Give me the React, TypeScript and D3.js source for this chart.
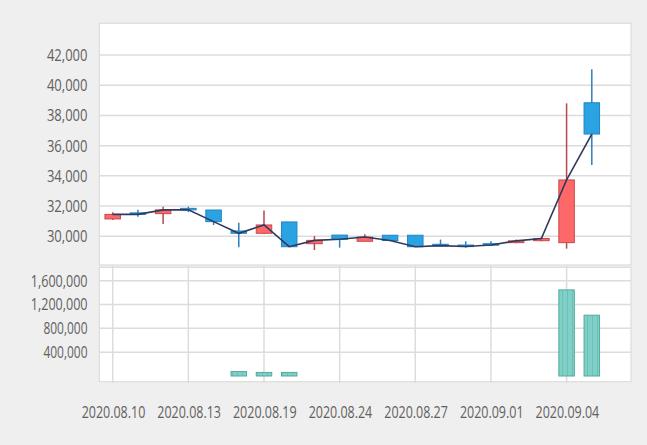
import React from 'react';
import * as d3 from 'd3';

const dates = ['2020.08.10','2020.08.11','2020.08.12','2020.08.13','2020.08.14','2020.08.18','2020.08.19','2020.08.20','2020.08.21','2020.08.24','2020.08.25','2020.08.26','2020.08.27','2020.08.28','2020.08.31','2020.09.01','2020.09.02','2020.09.03','2020.09.04','2020.09.07'];
const openP = [31150, 31550, 31500, 31850, 31740, 30350, 30200, 30950, 29510, 30080, 29670, 30070, 30070, 29470, 29420, 29510, 29580, 29710, 29580, 38840];
const closeP = [31450, 31450, 31750, 31750, 30970, 30200, 30750, 29310, 29730, 29800, 29950, 29720, 29310, 29380, 29320, 29420, 29700, 29850, 33730, 36770];
const highP = [31590, 31760, 31960, 31960, 31740, 30900, 31700, 30950, 30020, 30080, 30130, 30070, 30070, 29780, 29670, 29670, 29780, 29950, 38800, 41050];
const lowP = [31080, 31300, 30810, 31610, 30750, 29270, 30150, 29310, 29090, 29250, 29670, 29710, 29310, 29380, 29250, 29360, 29540, 29670, 29180, 34720];
const volume = [0, 0, 0, 0, 0, 75000, 60000, 60000, 0, 0, 0, 0, 0, 0, 0, 0, 0, 0, 1445000, 1020000];
const priceTicks = [30000, 32000, 34000, 36000, 38000, 40000, 42000];
const volTicks = [400000, 800000, 1200000, 1600000];
const xLabelIdx = [0, 3, 6, 9, 12, 15, 18];

const W = 647, H = 445;
const L = 99.3, R = 631;
const FONT = '"Open Sans", "Noto Sans", sans-serif';

export default function App() {
  const x = d3.scalePoint<string>().domain(dates).range([112.7, 591.8]);
  const yP = d3.scaleLinear().domain([28100, 44100]).range([265, 23.3]);
  const yV = d3.scaleLinear().domain([-95600, 1824000]).range([381.7, 267.3]);
  const bw = 15.5;
  const fmt = d3.format(',');
  const line = d3.line<number>().x((_, i) => x(dates[i])!).y(d => yP(d));

  return (
    <svg width={W} height={H} style={{ position: 'fixed', left: 0, top: 0 }} fontFamily={FONT}>
      <defs>
        <pattern id="stripe" width={5} height={10} patternUnits="userSpaceOnUse">
          <rect width={5} height={10} fill="#7fd1c7" />
          <rect x={2} width={1} height={10} fill="#6dc2b8" />
        </pattern>
      </defs>
      <rect width={W} height={H} fill="#efefef" />
      {/* price panel */}
      <rect x={L} y={23.3} width={R - L} height={265 - 23.3} fill="#fff" stroke="#dcdcdc" strokeWidth={1.2} />
      {priceTicks.map(t => (
        <g key={t}>
          <line x1={L} x2={R} y1={yP(t)} y2={yP(t)} stroke="#dcdcdc" strokeWidth={1.5} />
          <text x={87.5} y={yP(t) + 6} textAnchor="end" fontSize={16} fill="#606060"
            textLength={40.6} lengthAdjust="spacingAndGlyphs">{fmt(t)}</text>
        </g>
      ))}
      {/* volume panel */}
      <rect x={L} y={267.3} width={R - L} height={381.7 - 267.3} fill="#fff" stroke="#dcdcdc" strokeWidth={1.2} />
      {volTicks.map(t => (
        <g key={t}>
          <line x1={L} x2={R} y1={yV(t)} y2={yV(t)} stroke="#dcdcdc" strokeWidth={1.5} />
          <text x={87.5} y={yV(t) + 6} textAnchor="end" fontSize={16} fill="#606060"
            textLength={fmt(t).length * 6.3} lengthAdjust="spacingAndGlyphs">{fmt(t)}</text>
        </g>
      ))}
      {xLabelIdx.map(i => (
        <g key={i}>
          <line x1={x(dates[i])} x2={x(dates[i])} y1={265.7} y2={383} stroke="#dcdcdc" strokeWidth={1.5} />
          <text x={x(dates[i])! + 0.8} y={417.5} textAnchor="middle" fontSize={16} fill="#606060"
            textLength={63.6} lengthAdjust="spacingAndGlyphs">{dates[i]}</text>
        </g>
      ))}
      {volume.map((v, i) => v > 0 ? (
        <rect key={i} x={x(dates[i])! - bw / 2} y={yV(v)} width={bw} height={yV(0) - yV(v)}
          fill="url(#stripe)" stroke="#55a99f" strokeWidth={1} />
      ) : null)}
      {/* candles */}
      {dates.map((d, i) => {
        const up = closeP[i] >= openP[i];
        const cx = x(d)!;
        const top = yP(Math.max(openP[i], closeP[i]));
        const bot = yP(Math.min(openP[i], closeP[i]));
        return (
          <g key={d}>
            <line x1={cx} x2={cx} y1={yP(highP[i])} y2={yP(lowP[i])}
              stroke={up ? '#b8474c' : '#2d7fbf'} strokeWidth={1.5} />
            <rect x={cx - bw / 2} y={top} width={bw} height={Math.max(bot - top, 1.5)}
              fill={up ? '#fe6868' : '#2ba2e2'} stroke={up ? '#c8484c' : '#2185c6'} strokeWidth={1} />
          </g>
        );
      })}
      <path d={line(closeP)!} fill="none" stroke="#2f3a5e" strokeWidth={1.6} />
    </svg>
  );
}
